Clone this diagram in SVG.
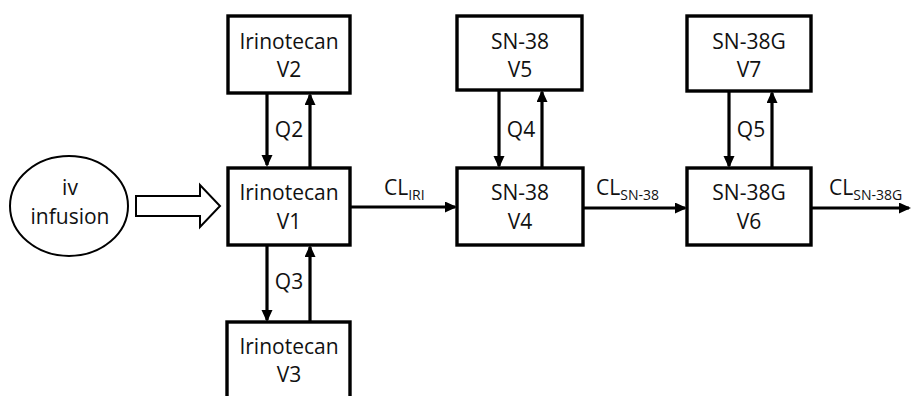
<svg xmlns="http://www.w3.org/2000/svg" width="911" height="396" viewBox="0 0 911 396">
<style>
.box{fill:#fff;stroke:#000;stroke-width:3.4}
.t{font-family:"Open Sans","Liberation Sans",sans-serif;font-size:21px;fill:#111;text-anchor:middle}
.cl{text-anchor:start}
.s{font-size:14px}
.ln{stroke:#000;stroke-width:3.2;fill:none}
</style>
<defs>
<marker id="ah" markerWidth="12" markerHeight="12" refX="10" refY="5.5" orient="auto" markerUnits="userSpaceOnUse">
<path d="M0,0 L12,5.5 L0,11 Z" fill="#000"/>
</marker>
</defs>
<g id="connectors">
<path d="M136,196 H200 V185 L220,206 L200,227 V216 H136 Z" fill="#fff" stroke="#000" stroke-width="2"/>
<line class="ln" x1="267" y1="93" x2="267" y2="165" marker-end="url(#ah)"/>
<line class="ln" x1="310" y1="167" x2="310" y2="95" marker-end="url(#ah)"/>
<line class="ln" x1="267" y1="245" x2="267" y2="320" marker-end="url(#ah)"/>
<line class="ln" x1="310" y1="322" x2="310" y2="247" marker-end="url(#ah)"/>
<line class="ln" x1="351" y1="207" x2="455" y2="207" marker-end="url(#ah)"/>
<line class="ln" x1="499" y1="90" x2="499" y2="166" marker-end="url(#ah)"/>
<line class="ln" x1="542" y1="168" x2="542" y2="92" marker-end="url(#ah)"/>
<line class="ln" x1="583" y1="208" x2="685" y2="208" marker-end="url(#ah)"/>
<line class="ln" x1="729" y1="91" x2="729" y2="166" marker-end="url(#ah)"/>
<line class="ln" x1="772" y1="168" x2="772" y2="93" marker-end="url(#ah)"/>
<line class="ln" x1="811" y1="208" x2="909" y2="208" marker-end="url(#ah)"/>
<text class="t" x="289" y="137">Q2</text>
<text class="t" x="289" y="289">Q3</text>
<text class="t" x="521" y="137">Q4</text>
<text class="t" x="751" y="137">Q5</text>
<text class="t cl" x="384" y="195">CL<tspan class="s" dy="5">IRI</tspan></text>
<text class="t cl" x="596" y="195">CL<tspan class="s" dy="5">SN-38</tspan></text>
<text class="t cl" x="829" y="195">CL<tspan class="s" dy="5">SN-38G</tspan></text>
</g>
<g id="infusion">
<ellipse cx="69" cy="206" rx="59" ry="50" fill="#fff" stroke="#000" stroke-width="2"/>
<text class="t" x="70" y="195">iv</text>
<text class="t" x="70" y="224">infusion</text>
</g>
<g id="V2">
<rect class="box" x="228" y="16" width="122" height="77"/>
<text class="t" x="289" y="49">Irinotecan</text>
<text class="t" x="289" y="77">V2</text>
</g>
<g id="V1">
<rect class="box" x="228" y="168" width="122" height="77"/>
<text class="t" x="289" y="200">Irinotecan</text>
<text class="t" x="289" y="229">V1</text>
</g>
<g id="V3">
<rect class="box" x="227" y="322" width="123" height="80"/>
<text class="t" x="289" y="354">Irinotecan</text>
<text class="t" x="289" y="382">V3</text>
</g>
<g id="V5">
<rect class="box" x="457" y="16" width="125" height="74"/>
<text class="t" x="520" y="49">SN-38</text>
<text class="t" x="520" y="77">V5</text>
</g>
<g id="V4">
<rect class="box" x="457" y="168" width="126" height="77"/>
<text class="t" x="520" y="200">SN-38</text>
<text class="t" x="520" y="229">V4</text>
</g>
<g id="V7">
<rect class="box" x="687" y="16" width="124" height="75"/>
<text class="t" x="749" y="49">SN-38G</text>
<text class="t" x="749" y="77">V7</text>
</g>
<g id="V6">
<rect class="box" x="687" y="168" width="124" height="77"/>
<text class="t" x="749" y="200">SN-38G</text>
<text class="t" x="749" y="229">V6</text>
</g>
</svg>
